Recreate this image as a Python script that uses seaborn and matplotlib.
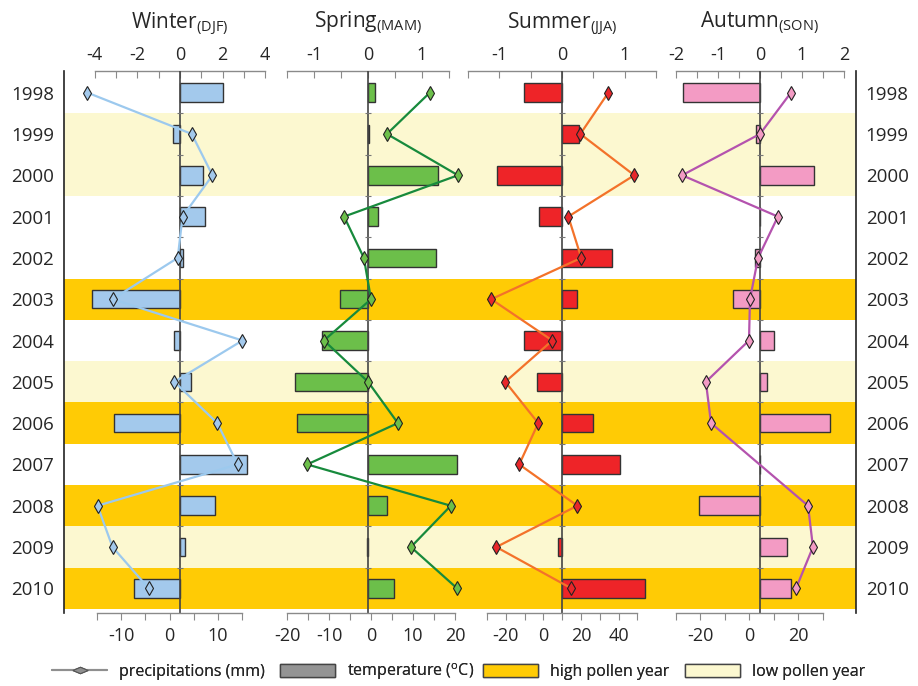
import numpy as np
import matplotlib
matplotlib.use("Agg")
import matplotlib.pyplot as plt
from matplotlib.lines import Line2D
from matplotlib.patches import Patch
import seaborn as sns

# ---- data -------------------------------------------------------------
years = [1998, 1999, 2000, 2001, 2002, 2003, 2004, 2005, 2006, 2007, 2008, 2009, 2010]
pollen = ["", "low", "low", "", "", "high", "", "low", "high", "", "high", "low", "high"]

# temperature anomalies (degC) -> bars, precipitation anomalies (mm) -> diamonds
winter_temp = [2.02, -0.33, 1.08, 1.17, 0.14, -4.13, -0.28, 0.52, -3.10, 3.15, 1.64, 0.25, -2.16]
winter_prec = [-17.0, 4.6, 8.9, 2.7, 1.7, -11.8, 15.1, 1.0, 9.9, 14.1, -14.9, -11.8, -4.3]
spring_temp = [0.13, 0.02, 1.30, 0.19, 1.26, -0.52, -0.85, -1.35, -1.31, 1.65, 0.35, -0.02, 0.48]
spring_prec = [14.0, 3.8, 20.7, -6.4, -1.7, 0.0, -11.2, -0.7, 6.4, -15.2, 19.0, 9.5, 20.5]
summer_temp = [-0.61, 0.27, -1.04, -0.37, 0.80, 0.24, -0.61, -0.40, 0.49, 0.93, 0.0, -0.06, 1.32]
summer_prec = [34.6, 19.7, 48.4, 13.3, 20.2, -27.7, 4.8, -20.2, -2.7, -12.8, 18.1, -25.0, 14.9]
autumn_temp = [-1.83, -0.10, 1.29, 0.0, -0.12, -0.64, 0.33, 0.17, 1.67, 0.0, -1.45, 0.64, 0.74]
autumn_prec = [17.1, 4.5, -27.3, 11.8, 3.7, 0.4, 0.0, -17.6, -15.5, np.nan, 24.1, 26.1, 19.2]

# ---- style ------------------------------------------------------------
sns.set_style("white")
plt.rcParams["font.family"] = ["Open Sans", "DejaVu Sans"]
plt.rcParams["axes.unicode_minus"] = False
plt.rcParams["mathtext.default"] = "regular"

HIGH = "#FFCB05"
LOW = "#FCF8D0"
band_colors = {"high": HIGH, "low": LOW}
AXIS_GREY = "#8a8a8a"

W, H = 918, 686
fig = plt.figure(figsize=(W / 100, H / 100), dpi=100)


def fx(px):
    return px / W


def fy(py):
    return 1 - py / H


row_top, row_bot = 72, 609
row_h = (row_bot - row_top) / len(years)
ax_top, ax_bot = 71, 613
ylim = (len(years) - 0.5 + (ax_bot - row_bot) / row_h, -0.5 - (row_top - ax_top) / row_h)
rows = np.arange(len(years))

# ---- background: pollen-year bands and year labels ---------------------
bg = fig.add_axes([fx(64), fy(ax_bot), (856 - 64) / W, (ax_bot - ax_top) / H])
bg.set_facecolor("white")
for i, p in enumerate(pollen):
    if p:
        bg.axhspan(i - 0.5, i + 0.5, color=band_colors[p], lw=0)
bg.set_xlim(0, 1)
bg.set_ylim(*ylim)
bg.set_xticks([])
bg.set_yticks(rows)
bg.set_yticklabels([str(y) for y in years])
bg.tick_params(axis="y", length=0, labelsize=13.5, left=True, right=True,
               labelleft=True, labelright=True, pad=7)
for s in ["top", "bottom"]:
    bg.spines[s].set_visible(False)
for s in ["left", "right"]:
    bg.spines[s].set_color("#222222")
    bg.spines[s].set_linewidth(1.2)

# ---- seasonal panels ---------------------------------------------------
seasons = [
    dict(name="Winter", sub="DJF", temp=winter_temp, prec=winter_prec,
         bar="#A3C9EC", line="#9CC9EE", face="#A3C9EC",
         zero=180, tppu=21.3, tlim=(-4, 4), tstep=1, tlab=[-4, -2, 0, 2, 4],
         p0=169.5, pppu=4.83, plim=(-15, 15), pstep=5, plab=[-10, 0, 10]),
    dict(name="Spring", sub="MAM", temp=spring_temp, prec=spring_prec,
         bar="#6CBF4A", line="#178A3C", face="#6CBF4A",
         zero=368, tppu=54.0, tlim=(-1.5, 1.5), tstep=0.5, tlab=[-1, 0, 1],
         p0=371, pppu=4.2, plim=(-20, 20), pstep=5, plab=[-20, -10, 0, 10, 20]),
    dict(name="Summer", sub="JJA", temp=summer_temp, prec=summer_prec,
         bar="#EE2428", line="#F3722A", face="#E8262A",
         zero=562, tppu=62.7, tlim=(-1.5, 1.5), tstep=0.5, tlab=[-1, 0, 1],
         p0=543.3, pppu=1.88, plim=(-30, 50), pstep=10, plab=[-20, 0, 20, 40]),
    dict(name="Autumn", sub="SON", temp=autumn_temp, prec=autumn_prec,
         bar="#F39BC4", line="#B453AE", face="#F39BC4",
         zero=760, tppu=42.0, tlim=(-2, 2), tstep=0.5, tlab=[-2, -1, 0, 1, 2],
         p0=749, pppu=2.45, plim=(-30, 30), pstep=10, plab=[-20, 0, 20]),
]


def tick_labels(ticks, shown):
    out = []
    for t in ticks:
        if any(abs(t - s) < 1e-9 for s in shown):
            out.append(f"{t:g}")
        else:
            out.append("")
    return out


for s in seasons:
    z, tppu, p0, pppu = s["zero"], s["tppu"], s["p0"], s["pppu"]
    tl, tr = z + s["tlim"][0] * tppu, z + s["tlim"][1] * tppu
    pl, pr = p0 + s["plim"][0] * pppu, p0 + s["plim"][1] * pppu
    L, R = min(tl, pl) - 6, max(tr, pr) + 6

    ax = fig.add_axes([fx(L), fy(ax_bot), (R - L) / W, (ax_bot - ax_top) / H])
    ax.set_facecolor("none")
    ax2 = ax.twiny()

    # temperature bars on the top scale
    sns.barplot(x=s["temp"], y=rows, orient="y", native_scale=True, width=0.45,
                color=s["bar"], saturation=1, edgecolor="#333333", linewidth=1.0,
                errorbar=None, ax=ax)
    ax.set_xlim((L - z) / tppu, (R - z) / tppu)
    ax.axvline(0, color="#444444", lw=1.2, zorder=3)
    ax.plot(np.zeros(len(rows) - 1), rows[:-1] + 0.5, ls="none", marker="_",
            ms=5, mew=0.8, color="#777777", zorder=3)

    # precipitation line on the bottom scale
    sns.lineplot(x=s["prec"], y=rows, orient="y", sort=False, estimator=None,
                 color=s["line"], lw=1.6, marker="d", markersize=7.5,
                 markerfacecolor=s["face"], markeredgecolor="#222222",
                 markeredgewidth=0.8, clip_on=False, ax=ax2)
    ax2.set_xlim((L - p0) / pppu, (R - p0) / pppu)
    ax.set_ylim(*ylim)
    ax2.set_ylim(*ylim)

    # top axis: temperature
    tticks = np.arange(s["tlim"][0], s["tlim"][1] + 1e-9, s["tstep"])
    ax.xaxis.tick_top()
    ax.xaxis.set_label_position("top")
    ax.set_xticks(tticks)
    ax.set_xticklabels(tick_labels(tticks, s["tlab"]))
    ax.tick_params(axis="x", which="both", direction="in", length=5, width=0.8,
                   color=AXIS_GREY, labelsize=13, pad=5,
                   top=True, labeltop=True, bottom=False, labelbottom=False)
    ax.tick_params(axis="y", left=False, labelleft=False, right=False, labelright=False)
    for sp in ["left", "right", "bottom"]:
        ax.spines[sp].set_visible(False)
    ax.spines["top"].set_visible(True)
    ax.spines["top"].set_bounds(*s["tlim"])
    ax.spines["top"].set_color(AXIS_GREY)
    ax.spines["top"].set_linewidth(1.0)
    ax.set_xlabel("")
    ax.set_ylabel("")

    # bottom axis: precipitation
    pticks = np.arange(s["plim"][0], s["plim"][1] + 1e-9, s["pstep"])
    ax2.xaxis.tick_bottom()
    ax2.xaxis.set_label_position("bottom")
    ax2.set_xticks(pticks)
    ax2.set_xticklabels(tick_labels(pticks, s["plab"]))
    ax2.tick_params(axis="x", which="both", direction="out", length=5, width=0.8,
                    color=AXIS_GREY, labelsize=13, pad=5,
                    bottom=True, labelbottom=True, top=False, labeltop=False)
    ax2.tick_params(axis="y", left=False, labelleft=False, right=False, labelright=False)
    for sp in ["left", "right", "top"]:
        ax2.spines[sp].set_visible(False)
    ax2.spines["bottom"].set_visible(True)
    ax2.spines["bottom"].set_bounds(*s["plim"])
    ax2.spines["bottom"].set_color(AXIS_GREY)
    ax2.spines["bottom"].set_linewidth(1.0)
    ax2.set_xlabel("")
    ax2.set_ylabel("")

    fig.text(fx(z), fy(28), s["name"] + r"$_{\mathregular{(" + s["sub"] + ")}}$",
             ha="center", va="baseline", fontsize=15)

# ---- legend (one entry per anchor so spacing follows the layout) -------
flat_diamond = [(-1, 0), (0, 0.42), (1, 0), (0, -0.42), (-1, 0)]
legend_items = [
    (Line2D([], [], color="#8f8f8f", lw=1.5, marker=flat_diamond, ms=11,
            mfc="#8f8f8f", mec="#555555", mew=0.8), "precipitations (mm)", 52),
    (Patch(facecolor="#949494", edgecolor="#444444", lw=1),
     r"temperature ($^{\mathregular{o}}$C)", 280),
    (Patch(facecolor=HIGH, edgecolor="#444444", lw=1), "high pollen year", 483),
    (Patch(facecolor=LOW, edgecolor="#444444", lw=1), "low pollen year", 685),
]
for handle, label, x0 in legend_items:
    leg = fig.legend([handle], [label], loc="center left",
                     bbox_to_anchor=(fx(x0), fy(672)), frameon=False, fontsize=11.5,
                     handlelength=3.45, handleheight=0.9, handletextpad=0.75,
                     borderpad=0, borderaxespad=0)
    fig.add_artist(leg)

fig.savefig("out.png", dpi=100)
